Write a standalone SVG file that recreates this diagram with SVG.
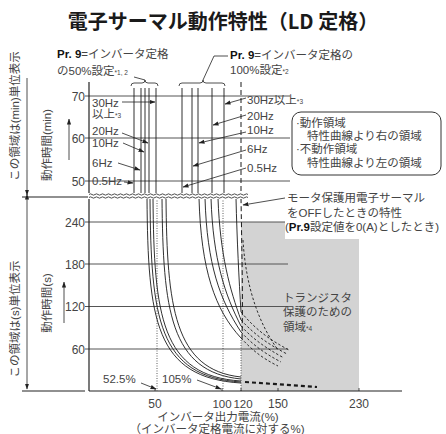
<svg xmlns="http://www.w3.org/2000/svg" width="446" height="434" viewBox="0 0 446 434">
<defs>
<marker id="ah" viewBox="0 0 6 6" refX="5.5" refY="3" markerWidth="6" markerHeight="6" orient="auto" markerUnits="userSpaceOnUse"><path d="M0,0.9 L6,3 L0,5.1 z" fill="#222"/></marker>
<marker id="ahs" viewBox="0 0 6 6" refX="0.5" refY="3" markerWidth="6" markerHeight="6" orient="auto-start-reverse" markerUnits="userSpaceOnUse"><path d="M0,0.9 L6,3 L0,5.1 z" fill="#222"/></marker>
</defs>
<style>
text{font-family:"Liberation Sans","Noto Sans CJK JP",sans-serif;fill:#444;font-size:11.5px}
.title{font-family:"Noto Sans CJK JP",sans-serif;font-size:20px;font-weight:700;fill:#1a1a1a}
.b{font-weight:bold;fill:#111}
.sm{font-size:6.5px}
.n{font-size:12px}
.g{stroke:#555;stroke-width:1;fill:none}
.ax{stroke:#222;stroke-width:1.2;fill:none}
.c{stroke:#1a1a1a;stroke-width:0.9;fill:none}
.dash{stroke:#1a1a1a;stroke-width:0.9;fill:none;stroke-dasharray:2.5,2}
.ldash{stroke:#1a1a1a;stroke-width:1;fill:none;stroke-dasharray:5,3}
.dot{stroke:#333;stroke-width:0.8;fill:none;stroke-dasharray:1,1.5}
.ld{stroke:#222;stroke-width:0.8;fill:none}
.box{fill:#fff;stroke:#333;stroke-width:1}
</style>

<text id="title" class="title" x="223" y="29" text-anchor="middle">電子サーマル動作特性（LD 定格）</text>

<g id="background">
<rect x="241" y="222" width="118" height="169" fill="#d3d3d3"/>
</g>

<g id="grid">
<path class="g" d="M85,96H290M85,138H290M85,181H290"/>
<path class="g" d="M85,222H288M85,264H288M85,306.5H288M85,349H288"/>
</g>

<g id="axes">
<path class="ax" d="M89,82V391"/>
<path class="ax" d="M89,391H402"/>
<path class="ax" d="M22,391H85M22,197H88"/>
<path class="ld" d="M155,391v-3M222,391v-3M241,391v-3M278,391v-3M359,391v-3"/>
</g>

<g id="axis-labels">
<text class="n" x="85" y="100.5" text-anchor="end">70</text>
<text class="n" x="85" y="142.5" text-anchor="end">60</text>
<text class="n" x="85" y="185.5" text-anchor="end">50</text>
<text class="n" x="85" y="226.5" text-anchor="end">240</text>
<text class="n" x="85" y="268.5" text-anchor="end">180</text>
<text class="n" x="85" y="311" text-anchor="end">120</text>
<text class="n" x="85" y="353.5" text-anchor="end">60</text>
<text class="n" x="155" y="407.5" text-anchor="middle">50</text>
<text x="222" y="407.5" text-anchor="middle">100</text>
<text x="243" y="407.5" text-anchor="middle">120</text>
<text class="n" x="278" y="407.5" text-anchor="middle">150</text>
<text class="n" x="359" y="407.5" text-anchor="middle">230</text>
<text x="218" y="421" text-anchor="middle">インバータ出力電流(%)</text>
<text x="217" y="432.5" text-anchor="middle">（インバータ定格電流に対する%)</text>
<text transform="translate(19,116) rotate(-90)" text-anchor="middle" font-size="12.5">この領域は(min)単位表示</text>
<text transform="translate(19,319) rotate(-90)" text-anchor="middle" font-size="12.5">この領域は(s)単位表示</text>
<text transform="translate(51,145) rotate(-90)" text-anchor="middle" font-size="12.5">動作時間(min)</text>
<text transform="translate(51,303) rotate(-90)" text-anchor="middle" font-size="12.5">動作時間(s)</text>
</g>

<g id="axis-arrows">
<path class="ld" d="M27,78V195" marker-end="url(#ah)"/>
<path class="ld" d="M27,199V389" marker-start="url(#ahs)" marker-end="url(#ah)"/>
<path class="ld" d="M69,160V119" marker-end="url(#ah)"/>
<path class="ld" d="M64,323V282" marker-end="url(#ah)"/>
</g>

<g id="curves-50">
<path class="c" d="M134,88V194M141,88V194M145,88V194M149,88V194M156,88V194"/>
<path class="c" d="M147,198 C148,320 155,378 241,383"/>
<path class="c" d="M150,198 C151,318 158,377 241,382"/>
<path class="c" d="M153,198 C154,316 161,376 241,381"/>
<path class="c" d="M162,198 C163,310 170,372 241,379"/>
<path class="c" d="M166,198 C167,306 174,370 241,377"/>
</g>

<g id="curves-100">
<path class="c" d="M182,88V194M192,88V194M198,88V194M212,88V194M224,88V194"/>
<path class="c" d="M199,198 C201,270 215,310 241,338"/>
<path class="c" d="M205,198 C207,265 220,300 241,332"/>
<path class="c" d="M211,198 C213,260 225,295 241,326"/>
<path class="c" d="M218,198 C220,255 230,290 241,320"/>
<path class="c" d="M236,198 C237,240 239,280 241,312"/>
</g>

<g id="curves-transistor">
<path class="dash" d="M241,338 C252,350 262,358 278,366"/>
<path class="dash" d="M241,332 C253,345 264,353 281,362"/>
<path class="dash" d="M241,326 C254,340 266,348 284,358"/>
<path class="dash" d="M241,320 C255,335 268,344 287,354"/>
<path class="dash" d="M241,312 C256,330 270,340 289,350"/>
<path class="dash" d="M243,240 C246,290 260,325 278,350"/>
<path d="M245,382 L317,387" stroke="#1a1a1a" stroke-width="2.2" fill="none" stroke-dasharray="4,3"/>
</g>

<g id="off-curve">
<path class="ldash" d="M241,82V194"/>
<path class="ldash" d="M241,198 C242,260 243,300 242,340"/>
</g>

<g id="ref-lines">
<path class="dot" d="M157,198V391M223,198V391M241,340V391"/>
</g>

<g id="break">
<rect x="88" y="193" width="160" height="6" fill="#fff"/>
<path class="ld" d="M89,194.5 q1.5,-1.3 3,0 t3,0 t3,0 t3,0 t3,0 t3,0 t3,0 t3,0 t3,0 t3,0 t3,0 t3,0 t3,0 t3,0 t3,0 t3,0 t3,0 t3,0 t3,0 t3,0 t3,0 t3,0 t3,0 t3,0 t3,0 t3,0 t3,0 t3,0 t3,0 t3,0 t3,0 t3,0 t3,0 t3,0 t3,0 t3,0 t3,0 t3,0 t3,0 t3,0 t3,0 t3,0 t3,0 t3,0 t3,0 t3,0 t3,0 t3,0 t3,0 t3,0 t3,0 t3,0 t3,0"/>
<path class="ld" d="M89,197.5 q1.5,-1.3 3,0 t3,0 t3,0 t3,0 t3,0 t3,0 t3,0 t3,0 t3,0 t3,0 t3,0 t3,0 t3,0 t3,0 t3,0 t3,0 t3,0 t3,0 t3,0 t3,0 t3,0 t3,0 t3,0 t3,0 t3,0 t3,0 t3,0 t3,0 t3,0 t3,0 t3,0 t3,0 t3,0 t3,0 t3,0 t3,0 t3,0 t3,0 t3,0 t3,0 t3,0 t3,0 t3,0 t3,0 t3,0 t3,0 t3,0 t3,0 t3,0 t3,0 t3,0 t3,0 t3,0"/>
</g>

<g id="label-50">
<text x="57" y="58" font-size="12"><tspan class="b">Pr. 9</tspan>=インバータ定格</text>
<text x="57" y="75" font-size="12">の50%設定<tspan class="sm">*1, 2</tspan></text>
<path class="ld" d="M131,86 Q131,83 134,83 H142 Q145,83 145,80 Q145,83 148,83 H155 Q158,83 158,86"/>
<path class="ld" d="M134,77 L145,80"/>
<text x="92" y="106.5">30Hz</text>
<text x="92" y="118">以上<tspan class="sm">*3</tspan></text>
<text x="92" y="135">20Hz</text>
<text x="92" y="147">10Hz</text>
<text x="92" y="167">6Hz</text>
<text x="92" y="185">0.5Hz</text>
<path class="ld" d="M122,102H155" marker-end="url(#ah)"/>
<path class="ld" d="M122,133L148,143" marker-end="url(#ah)"/>
<path class="ld" d="M123,143L144,152" marker-end="url(#ah)"/>
<path class="ld" d="M118,163L140,170" marker-end="url(#ah)"/>
<path class="ld" d="M124,182L133,183" marker-end="url(#ah)"/>
</g>

<g id="label-100">
<text x="230" y="59" font-size="12"><tspan class="b">Pr. 9</tspan>=インバータ定格の</text>
<text x="230" y="74" font-size="12">100%設定<tspan class="sm">*2</tspan></text>
<path class="ld" d="M179,86 Q179,83 182,83 H200 Q203,83 203,80 Q203,83 206,83 H222 Q225,83 225,86"/>
<path class="ld" d="M203,80 L214,56 H228"/>
<text x="247" y="104">30Hz以上<tspan class="sm">*3</tspan></text>
<text x="247" y="120">20Hz</text>
<text x="247" y="134">10Hz</text>
<text x="247" y="153">6Hz</text>
<text x="247" y="172">0.5Hz</text>
<path class="ld" d="M246,98L225,104" marker-end="url(#ah)"/>
<path class="ld" d="M246,115L213,125" marker-end="url(#ah)"/>
<path class="ld" d="M246,132L199,143" marker-end="url(#ah)"/>
<path class="ld" d="M246,150L193,166" marker-end="url(#ah)"/>
<path class="ld" d="M246,168L183,187" marker-end="url(#ah)"/>
</g>

<g id="legend">
<rect class="box" x="292" y="112" width="149" height="63" rx="9"/>
<text x="296" y="127" font-size="11">·動作領域</text>
<text x="307" y="140" font-size="11">特性曲線より右の領域</text>
<text x="296" y="153" font-size="11">·不動作領域</text>
<text x="307" y="167" font-size="11">特性曲線より左の領域</text>
</g>

<g id="label-off">
<rect x="285" y="190" width="161" height="49" fill="#fff"/>
<text x="287" y="202">モータ保護用電子サーマル</text>
<text x="287" y="217">をOFFしたときの特性</text>
<text x="285" y="231">(<tspan class="b">Pr.9</tspan>設定値を0(A)としたとき)</text>
<path class="ld" d="M285,198L243,205" marker-end="url(#ah)"/>
</g>

<g id="label-tr">
<text x="283" y="302" font-size="11">トランジスタ</text>
<text x="283" y="316" font-size="11">保護のための</text>
<text x="283" y="331" font-size="11">領域<tspan class="sm">*4</tspan></text>
</g>

<g id="label-pct">
<text x="103" y="383">52.5%</text>
<text x="162" y="383">105%</text>
<path class="ld" d="M141,383L156,389" marker-end="url(#ah)"/>
<path class="ld" d="M197,380L221,389" marker-end="url(#ah)"/>
</g>
</svg>
